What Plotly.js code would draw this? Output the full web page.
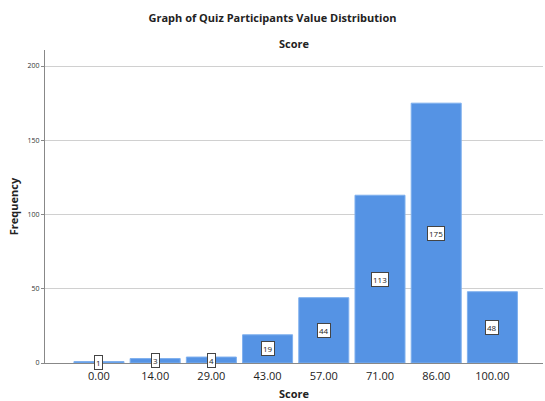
<!DOCTYPE html>
<html><head><meta charset="utf-8">
<script src="https://cdn.plot.ly/plotly-3.0.1.min.js"></script>
<style>html,body{margin:0;padding:0;background:#fff}</style>
</head><body>
<div id="chart" style="width:545px;height:401px"></div>
<script>
const categories = ["0.00","14.00","29.00","43.00","57.00","71.00","86.00","100.00"];
const frequencies = [1,3,4,19,44,113,175,48];
const yTicks = [0,50,100,150,200];

const font = "Open Sans, Liberation Sans, sans-serif";
const annotations = categories.map((c,i)=>({
  x: i, y: frequencies[i]/2, xref:'x', yref:'y',
  text: String(frequencies[i]), showarrow:false,
  font:{family:font,size:8,color:'#222'},
  bgcolor:'#ffffff', bordercolor:'#444', borderwidth:1, borderpad:1
}));
annotations.push({
  text:'<b>Score</b>', xref:'paper', yref:'paper', x:0.5, y:(363-43)/313,
  yanchor:'middle', showarrow:false, font:{family:font,size:11,color:'#222'}
});

const data = [{
  type:'bar', x:categories, y:frequencies,
  marker:{color:'#5593e4', line:{color:'#7fb0ee', width:1}},
  width:0.89, hoverinfo:'none'
}];
const layout = {
  width:545, height:401,
  margin:{l:45,r:2,t:50,b:38},
  paper_bgcolor:'#fff', plot_bgcolor:'#fff',
  showlegend:false,
  title:{text:'<b>Graph of Quiz Participants Value Distribution</b>', x:0.5, xanchor:'center', y:1-18/401, yanchor:'middle', font:{family:font,size:11,color:'#222'}},
  xaxis:{type:'category', range:[-0.96,7.9], showgrid:false, showline:true, linecolor:'#888', linewidth:1,
    ticks:'', ticklabelstandoff:3, tickfont:{family:font,size:11,color:'#222'},
    title:{text:'<b>Score</b>', font:{family:font,size:11,color:'#222'}, standoff:13}},
  yaxis:{range:[0,210.8], tickvals:yTicks, ticktext:yTicks.map(String), showgrid:true, gridcolor:'#d0d0d0', gridwidth:1,
    zeroline:false, showline:true, linecolor:'#888', linewidth:1, ticks:'outside', ticklen:3, tickcolor:'#888',
    tickfont:{family:font,size:7,color:'#333'},
    title:{text:'<b>Frequency</b>', font:{family:font,size:11,color:'#222'}, standoff:6}},
  annotations: annotations
};
Plotly.newPlot('chart', data, layout, {staticPlot:true, displayModeBar:false});
</script>
</body></html>
